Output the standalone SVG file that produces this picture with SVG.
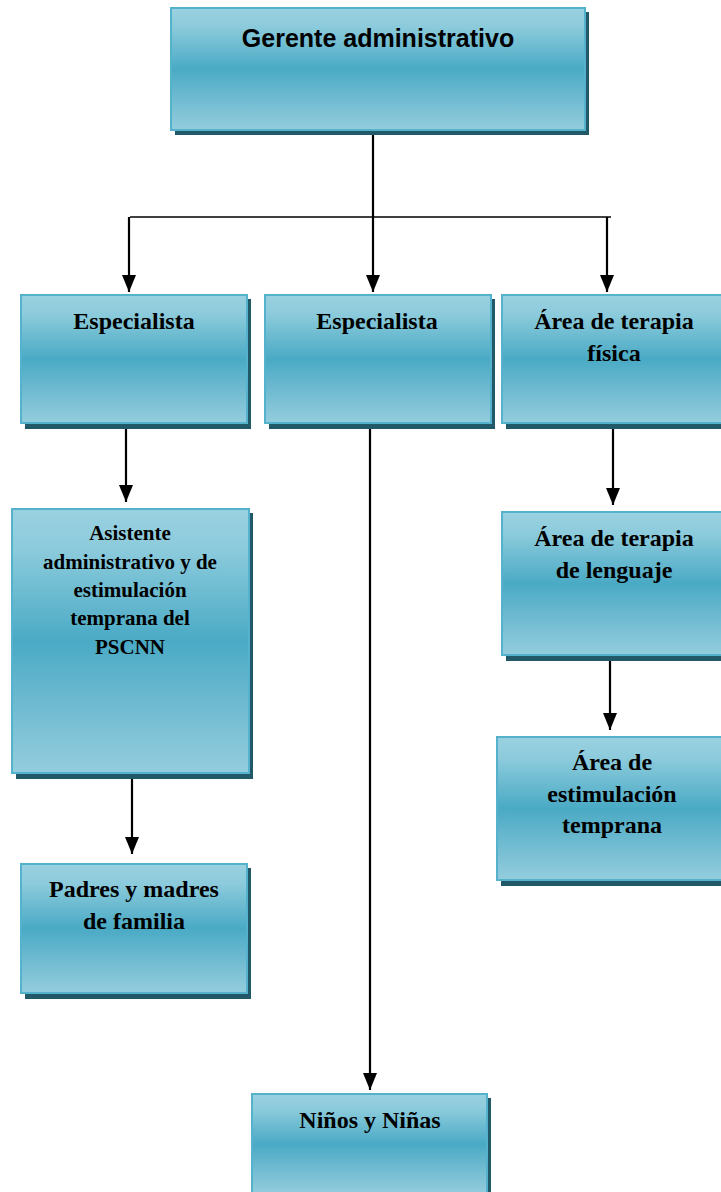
<svg xmlns="http://www.w3.org/2000/svg" width="721" height="1192" viewBox="0 0 721 1192">
<defs>
<linearGradient id="g" x1="0" y1="0" x2="0" y2="1">
<stop offset="0" stop-color="#9ad1e0"/>
<stop offset="0.15" stop-color="#8ccbdc"/>
<stop offset="0.5" stop-color="#4aaac5"/>
<stop offset="0.85" stop-color="#7fc2d6"/>
<stop offset="1" stop-color="#93cddd"/>
</linearGradient>
<marker id="ah" markerUnits="userSpaceOnUse" markerWidth="18" markerHeight="16" refX="17" refY="8" orient="auto" viewBox="0 0 18 16">
<path d="M0 1 L17 8 L0 15 Z" fill="#000"/>
</marker>
<style>
.sh{fill:#215968}
.bx{fill:url(#g);stroke:#54b2cc;stroke-width:2}
.t{font-family:"Liberation Serif","Times New Roman",serif;font-weight:bold;font-size:24px;fill:#000;text-anchor:middle}
.ts{font-size:21px}
.tg{font-family:"Liberation Sans",Arial,sans-serif;font-weight:bold;font-size:25px;fill:#000;text-anchor:middle}
.c{stroke:#000;stroke-width:2.2;fill:none}
.h{stroke:#000;stroke-width:1.3;fill:none}
</style>
</defs>
<rect width="721" height="1192" fill="#fff"/>
<g id="connectors">
<line class="h" x1="130" y1="217" x2="611" y2="217"/>
<line class="c" x1="373" y1="130" x2="373" y2="292" marker-end="url(#ah)"/>
<line class="c" x1="129" y1="217" x2="129" y2="292" marker-end="url(#ah)"/>
<line class="c" x1="607" y1="217" x2="607" y2="292" marker-end="url(#ah)"/>
<line class="c" x1="126" y1="425" x2="126" y2="502" marker-end="url(#ah)"/>
<line class="c" x1="132" y1="776" x2="132" y2="854" marker-end="url(#ah)"/>
<line class="c" x1="370" y1="425" x2="370" y2="1090" marker-end="url(#ah)"/>
<line class="c" x1="613" y1="428" x2="613" y2="505" marker-end="url(#ah)"/>
<line class="c" x1="610" y1="657" x2="610" y2="730" marker-end="url(#ah)"/>
</g>
<g id="gerente">
<rect class="sh" x="175" y="12" width="414" height="123"/>
<rect class="bx" x="171" y="8" width="414" height="122"/>
<text class="tg" x="378" y="47">Gerente administrativo</text>
</g>
<g id="especialista1">
<rect class="sh" x="25" y="299" width="226" height="130"/>
<rect class="bx" x="21" y="295" width="226" height="128"/>
<text class="t" x="134" y="329">Especialista</text>
</g>
<g id="especialista2">
<rect class="sh" x="269" y="299" width="226" height="130"/>
<rect class="bx" x="265" y="295" width="226" height="128"/>
<text class="t" x="377" y="329">Especialista</text>
</g>
<g id="terapia-fisica">
<rect class="sh" x="506" y="299" width="220" height="130"/>
<rect class="bx" x="502" y="295" width="222" height="128"/>
<text class="t" x="614" y="329">Área de terapia</text>
<text class="t" x="614" y="361">física</text>
</g>
<g id="asistente">
<rect class="sh" x="16" y="513" width="237" height="266"/>
<rect class="bx" x="12" y="509" width="237" height="264"/>
<text class="t ts" x="130" y="540">Asistente</text>
<text class="t ts" x="130" y="569">administrativo y de</text>
<text class="t ts" x="130" y="597">estimulación</text>
<text class="t ts" x="130" y="625">temprana del</text>
<text class="t ts" x="130" y="654">PSCNN</text>
</g>
<g id="padres">
<rect class="sh" x="25" y="868" width="226" height="131"/>
<rect class="bx" x="21" y="864" width="226" height="129"/>
<text class="t" x="134" y="897">Padres y madres</text>
<text class="t" x="134" y="929">de familia</text>
</g>
<g id="terapia-lenguaje">
<rect class="sh" x="506" y="516" width="220" height="145"/>
<rect class="bx" x="502" y="512" width="222" height="143"/>
<text class="t" x="614" y="546">Área de terapia</text>
<text class="t" x="614" y="578">de lenguaje</text>
</g>
<g id="estimulacion">
<rect class="sh" x="501" y="741" width="225" height="145"/>
<rect class="bx" x="497" y="737" width="227" height="143"/>
<text class="t" x="612" y="770">Área de</text>
<text class="t" x="612" y="802">estimulación</text>
<text class="t" x="612" y="833">temprana</text>
</g>
<g id="ninos">
<rect class="sh" x="256" y="1098" width="235" height="100"/>
<rect class="bx" x="252" y="1094" width="235" height="100"/>
<text class="t" x="370" y="1128">Niños y Niñas</text>
</g>
</svg>
